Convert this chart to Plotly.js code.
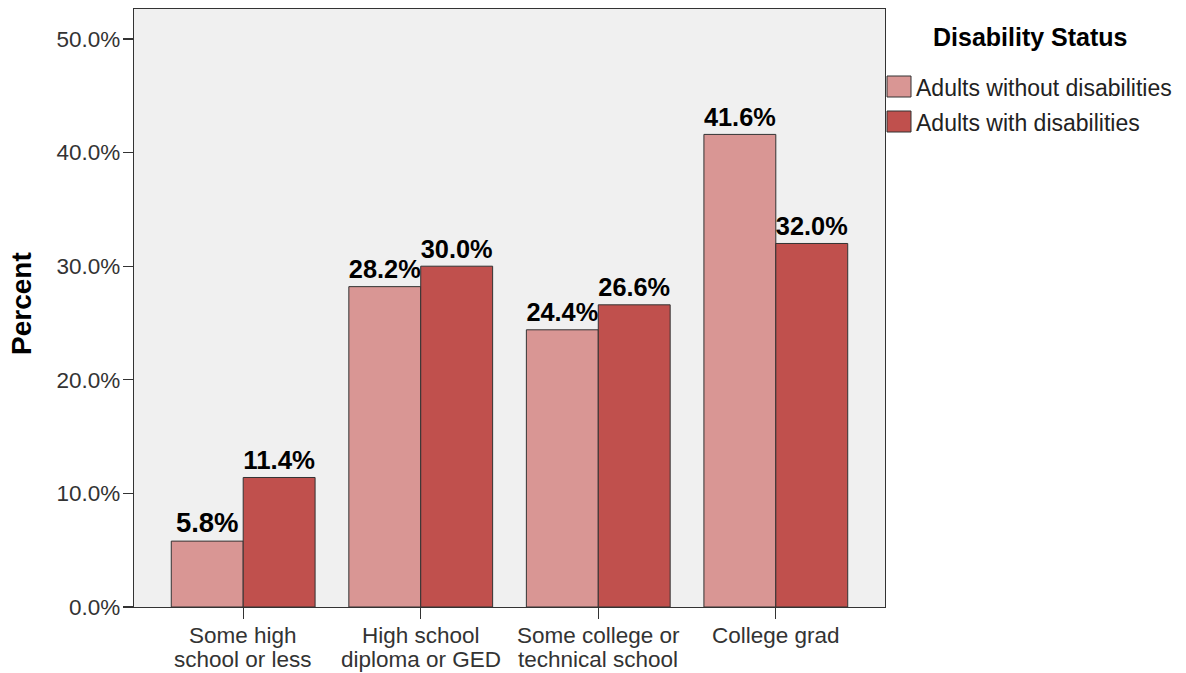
<!DOCTYPE html>
<html>
<head>
<meta charset="utf-8">
<script src="https://cdn.plot.ly/plotly-3.0.1.min.js"></script>
<style>html,body{margin:0;padding:0;background:#fff;}#chart{width:1186px;height:673px;}</style>
</head>
<body>
<div id="chart"></div>
<script>
const categories = ["Some high school or less", "High school diploma or GED", "Some college or technical school", "College grad"];
const categoryLines = [["Some high", "school or less"], ["High school", "diploma or GED"], ["Some college or", "technical school"], ["College grad"]];
const withoutDisabilities = [5.8, 28.2, 24.4, 41.6];
const withDisabilities = [11.4, 30.0, 26.6, 32.0];
const seriesNames = ["Adults without disabilities", "Adults with disabilities"];
const seriesColors = ["#d99694", "#c0504d"];
const yTickVals = [0, 10, 20, 30, 40, 50];
const yTickText = ["0.0%", "10.0%", "20.0%", "30.0%", "40.0%", "50.0%"];
const legendTitle = "Disability Status";
const yTitle = "Percent";

const FONT = "Arial, 'Liberation Sans', sans-serif";
const W = 1186, H = 673;
const L = 134, R = 885, T = 9, B = 607;
const pw = R - L, ph = B - T;
const px = x => (x - L) / pw;
const py = y => (B - y) / ph;

const seriesData = [withoutDisabilities, withDisabilities];
const traces = seriesData.map((vals, i) => ({
  type: 'bar',
  name: seriesNames[i],
  x: categories,
  y: vals,
  text: vals.map(v => v.toFixed(1) + '%'),
  textposition: 'outside',
  cliponaxis: false,
  textfont: {family: FONT, size: 27.5, color: '#000', weight: 'bold'},
  marker: {color: seriesColors[i], line: {color: '#333333', width: 1}},
  showlegend: false,
  hoverinfo: 'skip'
}));

const shapes = [];
const annotations = [];

// Category labels (two lines each, tighter spacing than Plotly's default)
const lineY = [635, 659];
categories.forEach((c, ci) => {
  categoryLines[ci].forEach((ln, li) => {
    annotations.push({xref: 'x', yref: 'paper', x: c, y: py(lineY[li]),
      xanchor: 'center', yanchor: 'middle', showarrow: false, text: ln,
      font: {family: FONT, size: 22.5, color: '#333'}});
  });
});

// Custom legend (swatches + labels)
const swTop = [76, 111];
seriesNames.forEach((n, i) => {
  shapes.push({type: 'rect', xref: 'paper', yref: 'paper',
    x0: px(887), x1: px(911), y0: py(swTop[i] + 21), y1: py(swTop[i]),
    fillcolor: seriesColors[i], line: {color: '#333333', width: 1}});
  annotations.push({xref: 'paper', yref: 'paper', x: px(914), y: py(swTop[i] + 12),
    xanchor: 'left', yanchor: 'middle', showarrow: false, text: n,
    font: {family: FONT, size: 23, color: '#222'}});
});
annotations.push({xref: 'paper', yref: 'paper', x: px(1030), y: py(37),
  xanchor: 'center', yanchor: 'middle', showarrow: false, text: '<b>' + legendTitle + '</b>',
  font: {family: FONT, size: 25, color: '#000'}});

// Y axis title
annotations.push({xref: 'paper', yref: 'paper', x: px(21), y: py(304),
  xanchor: 'center', yanchor: 'middle', showarrow: false, textangle: -90,
  text: '<b>' + yTitle + '</b>', font: {family: FONT, size: 28, color: '#000'}});

const layout = {
  width: W, height: H,
  margin: {l: L, r: W - R, t: T, b: H - B, pad: 0},
  paper_bgcolor: '#ffffff',
  plot_bgcolor: '#f0f0f0',
  bargap: 0.19,
  bargroupgap: 0,
  barmode: 'group',
  showlegend: false,
  font: {family: FONT, color: '#333'},
  xaxis: {
    type: 'category',
    range: [-0.615, 3.615],
    showline: true, mirror: true, linecolor: '#333333', linewidth: 1.3,
    ticks: 'outside', ticklen: 11, tickcolor: '#333333', tickwidth: 1.3,
    showticklabels: false,
    showgrid: false, zeroline: false, fixedrange: true
  },
  yaxis: {
    range: [0, 52.64],
    tickvals: yTickVals, ticktext: yTickText,
    showline: true, mirror: true, linecolor: '#333333', linewidth: 1.3,
    ticks: 'outside', ticklen: 10, tickcolor: '#333333', tickwidth: 1.3,
    ticklabelstandoff: -2,
    tickfont: {family: FONT, size: 22.5, color: '#333'},
    showgrid: false, zeroline: false, fixedrange: true
  },
  shapes: shapes,
  annotations: annotations
};

Plotly.newPlot('chart', traces, layout, {displayModeBar: false, staticPlot: true});
</script>
</body>
</html>
